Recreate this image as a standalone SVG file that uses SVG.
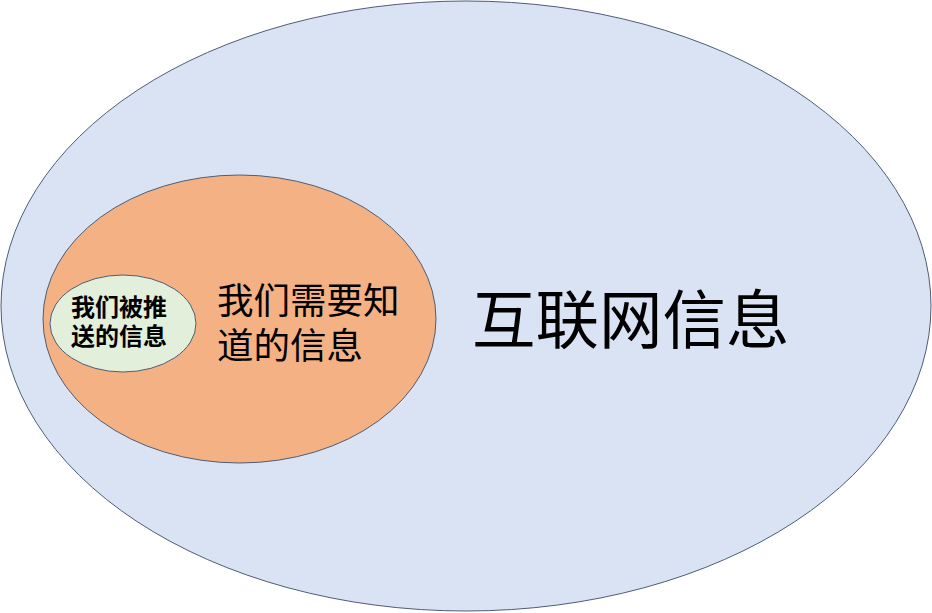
<svg xmlns="http://www.w3.org/2000/svg" width="932" height="613" viewBox="0 0 932 613">
<style>
.cjk{font-family:"Noto Sans CJK SC","Noto Sans",sans-serif;fill:#000}
.shape{stroke:#4d5d78;stroke-width:1}
</style>
<rect width="932" height="613" fill="#ffffff"/>
<g id="internet">
<ellipse class="shape" cx="466" cy="306" rx="465" ry="305" fill="#dae3f3"/>
<text class="cjk" x="472" y="343" font-size="63.5">互联网信息</text>
</g>
<g id="need-to-know">
<ellipse class="shape" cx="239.5" cy="319" rx="196.5" ry="144" fill="#f4b183"/>
<text class="cjk" x="217" y="314" font-size="36.5">我们需要知</text>
<text class="cjk" x="217" y="359" font-size="36.5">道的信息</text>
</g>
<g id="pushed">
<ellipse class="shape" cx="123" cy="323.5" rx="73" ry="48.5" fill="#e2efda"/>
<text class="cjk" x="71" y="316" font-size="24" font-weight="bold">我们被推</text>
<text class="cjk" x="71" y="345" font-size="24" font-weight="bold">送的信息</text>
</g>
<g id="connectors"/>
</svg>
